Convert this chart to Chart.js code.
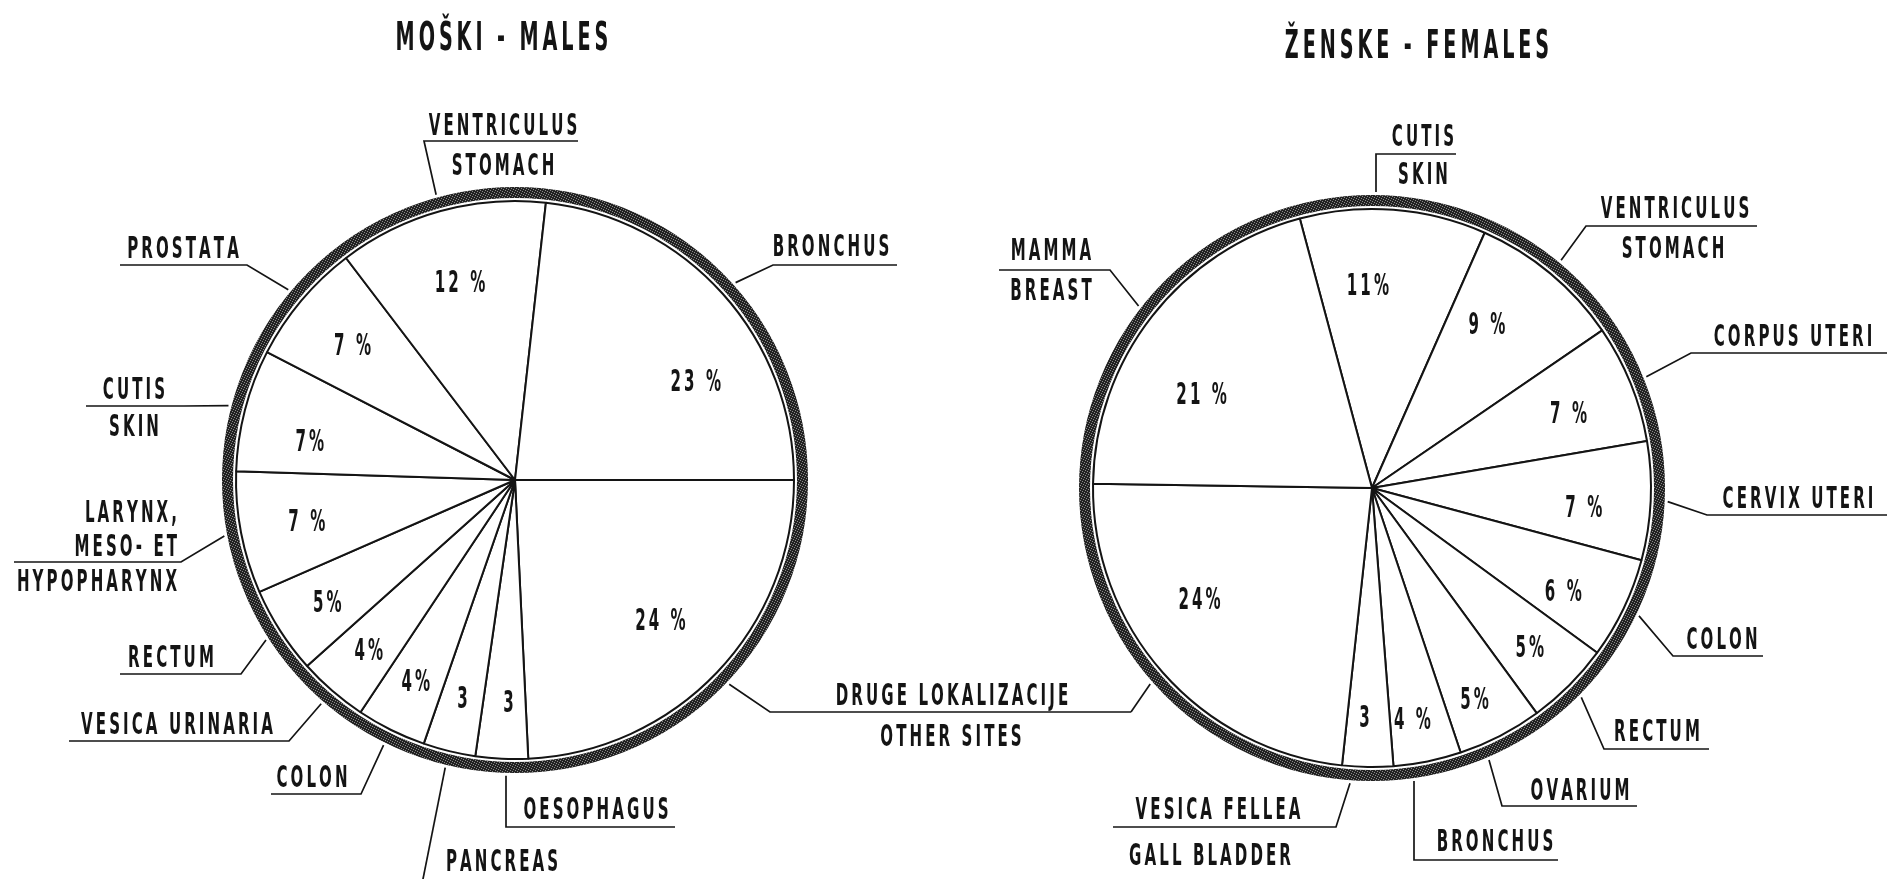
<!DOCTYPE html>
<html>
<head>
<meta charset="utf-8">
<script src="https://cdn.jsdelivr.net/npm/chart.js@4.4.0/dist/chart.umd.min.js"></script>
<style>
  html, body { margin: 0; padding: 0; background: #ffffff; }
  #wrap { position: relative; width: 1887px; height: 879px; overflow: hidden; background: #ffffff; }
  #wrap canvas { position: absolute; left: 0; top: 0; }
</style>
</head>
<body>
<div id="wrap">
  <canvas id="males" width="1887" height="879"></canvas>
  <canvas id="females" width="1887" height="879"></canvas>
</div>
<script>
// ---------------- DATA ----------------
const chartTitles = ['MOŠKI - MALES', 'ŽENSKE - FEMALES'];

const maleCategories = [
  'DRUGE LOKALIZACIJE\nOTHER SITES', 'OESOPHAGUS', 'PANCREAS', 'COLON', 'VESICA URINARIA',
  'RECTUM', 'LARYNX,\nMESO- ET\nHYPOPHARYNX', 'CUTIS\nSKIN', 'PROSTATA', 'VENTRICULUS\nSTOMACH', 'BRONCHUS'
];
const maleValues = [24, 3, 3, 4, 4, 5, 7, 7, 7, 12, 23];
const malePctLabels = ['24 %', '3', '3', '4%', '4%', '5%', '7 %', '7%', '7 %', '12 %', '23 %'];

const femaleCategories = [
  'CUTIS\nSKIN', 'VENTRICULUS\nSTOMACH', 'CORPUS UTERI', 'CERVIX UTERI', 'COLON', 'RECTUM',
  'OVARIUM', 'BRONCHUS', 'VESICA FELLEA\nGALL BLADDER', 'DRUGE LOKALIZACIJE\nOTHER SITES', 'MAMMA\nBREAST'
];
const femaleValues = [11, 9, 7, 7, 6, 5, 5, 4, 3, 24, 21];
const femalePctLabels = ['11%', '9 %', '7 %', '7 %', '6 %', '5%', '5%', '4 %', '3', '24%', '21 %'];

// ---------------- LAYOUT / STYLE (page pixels) ----------------
const INK = '#141414';
const RING_IN = 3, RING_W = 11, LEAD = 17;

const maleLayout = [
  { text: [[952, 694], [951, 735]], path: [[770, 712], [1131, 712]] },
  { text: [[596, 808]], anchorX: 506, path: [[506, 827], [675, 827]], dp: [4, -2] },
  { text: [[502, 860]], path: [[422, 884]] },
  { text: [[312, 776]], path: [[361, 794], [271, 794]] },
  { text: [[177, 723]], path: [[289, 741], [69, 741]] },
  { text: [[171, 656]], path: [[241, 674], [120, 674]] },
  { text: [[177, 511], [177, 545], [177, 580]], align: 'right', path: [[181, 562], [14, 562]] },
  { text: [[134, 388], [134, 425]], path: [[184, 406], [86, 406]], dp: [0, 13] },
  { text: [[183, 247]], path: [[247, 265], [120, 265]] },
  { text: [[503, 124], [503, 164]], path: [[424, 141], [578, 141]] },
  { text: [[831, 245]], path: [[773, 265], [897, 265]], dp: [31, 34] }
];
const femaleLayout = [
  { text: [[1423, 135], [1423, 173]], anchorX: 1376, path: [[1376, 154], [1456, 154]], dp: [-20, 2] },
  { text: [[1675, 207], [1673, 247]], path: [[1586, 226], [1757, 226]], dp: [-17, -6] },
  { text: [[1793, 335]], path: [[1691, 353], [1887, 353]], dp: [0, 4] },
  { text: [[1798, 497]], path: [[1707, 515], [1887, 515]], dp: [0, 8] },
  { text: [[1722, 638]], path: [[1673, 656], [1763, 656]], dp: [0, 10] },
  { text: [[1657, 730]], path: [[1604, 749], [1709, 749]] },
  { text: [[1580, 789]], anchorX: 1489, path: [[1502, 806], [1637, 806]], dp: [0, 12] },
  { text: [[1495, 840]], anchorX: 1414, path: [[1414, 860], [1558, 860]], dp: [-4, 11] },
  { text: [[1218, 808], [1210, 854]], anchorX: 1350, path: [[1336, 827], [1113, 827]], dp: [-4, 5] },
  { text: null, path: [[1131, 712]], dp: [-22, -23] },
  { text: [[1051, 249], [1051, 289]], path: [[1110, 270], [999, 270]], dp: [-12, 29] }
];

// ---------------- HELPERS ----------------
function drawText(ctx, text, x, y, capH, align) {
  const size = capH / 0.73;
  ctx.font = 'bold ' + size.toFixed(1) + 'px "DejaVu Sans", "Liberation Sans", sans-serif';
  ctx.fillStyle = INK;
  ctx.textBaseline = 'alphabetic';
  ctx.textAlign = 'left';
  const sx = 0.5, gap = capH * 0.14;
  const chars = Array.from(text);
  const widths = chars.map(c => ctx.measureText(c).width * sx);
  const total = widths.reduce((a, b) => a + b, 0) + gap * (chars.length - 1);
  let pos = align === 'right' ? x - total : (align === 'left' ? x : x - total / 2);
  const base = y + capH / 2;
  chars.forEach((c, i) => {
    ctx.save();
    ctx.translate(pos, base);
    ctx.scale(sx, 1);
    ctx.fillText(c, 0, 0);
    ctx.restore();
    pos += widths[i] + gap;
  });
}

function ringPattern(ctx) {
  const p = document.createElement('canvas');
  p.width = 5; p.height = 5;
  const pc = p.getContext('2d');
  pc.fillStyle = '#222222';
  pc.fillRect(0, 0, 5, 5);
  pc.fillStyle = '#8a8a8a';
  [[0, 0], [2, 1], [4, 2], [1, 3], [3, 4]].forEach(q => pc.fillRect(q[0], q[1], 1, 1));
  return ctx.createPattern(p, 'repeat');
}

function makeCallouts(key, title, titlePos, categories, values, pct, layout) {
  return {
    id: 'callouts_' + key,
    afterDatasetsDraw(chart) {
      const ctx = chart.ctx;
      const arcs = chart.getDatasetMeta(0).data;
      const cx = arcs[0].x, cy = arcs[0].y, R = arcs[0].outerRadius;
      ctx.save();
      // outer ring
      ctx.beginPath();
      ctx.arc(cx, cy, R + RING_IN + RING_W / 2, 0, Math.PI * 2);
      ctx.lineWidth = RING_W;
      ctx.strokeStyle = ringPattern(ctx);
      ctx.stroke();
      // title
      drawText(ctx, title, titlePos[0], titlePos[1], 28, 'center');
      arcs.forEach((arc, i) => {
        const L = layout[i];
        const mid = (arc.startAngle + arc.endAngle) / 2;
        const v = values[i];
        const f = v >= 20 ? 0.72 : v >= 9 ? 0.74 : v >= 6 ? 0.76 : 0.8;
        const dp = L.dp || [0, 0];
        drawText(ctx, pct[i], cx + Math.cos(mid) * R * f + dp[0], cy + Math.sin(mid) * R * f + dp[1], 22, 'center');
        const rr = R + LEAD;
        let ax, ay;
        if (L.anchorX !== undefined) {
          ax = L.anchorX;
          const dy = Math.sqrt(Math.max(rr * rr - (ax - cx) * (ax - cx), 0));
          ay = cy + (Math.sin(mid) >= 0 ? dy : -dy);
        } else {
          ax = cx + Math.cos(mid) * rr;
          ay = cy + Math.sin(mid) * rr;
        }
        ctx.beginPath();
        ctx.moveTo(ax, ay);
        L.path.forEach(p => ctx.lineTo(p[0], p[1]));
        ctx.lineWidth = 1.7;
        ctx.strokeStyle = INK;
        ctx.lineJoin = 'miter';
        ctx.stroke();
        if (L.text) {
          const lines = categories[i].split('\n');
          lines.forEach((t, j) => drawText(ctx, t, L.text[j][0], L.text[j][1], 22, L.align || 'center'));
        }
      });
      ctx.restore();
    }
  };
}

function pieConfig(categories, values, rotation, padding, plugin) {
  return {
    type: 'pie',
    data: {
      labels: categories,
      datasets: [{
        data: values,
        backgroundColor: '#ffffff',
        borderColor: INK,
        borderWidth: 2,
        hoverOffset: 0
      }]
    },
    options: {
      responsive: false,
      animation: false,
      rotation: rotation,
      layout: { padding: padding },
      plugins: { legend: { display: false }, tooltip: { enabled: false }, title: { display: false } }
    },
    plugins: [plugin]
  };
}

new Chart(document.getElementById('males'), pieConfig(
  maleCategories, maleValues, 90,
  { left: 235, top: 200, right: 1092, bottom: 119 },
  makeCallouts('m', chartTitles[0], [502, 36], maleCategories, maleValues, malePctLabels, maleLayout)
));

new Chart(document.getElementById('females'), pieConfig(
  femaleCategories, femaleValues, -15,
  { left: 1092, top: 208, right: 235, bottom: 111 },
  makeCallouts('f', chartTitles[1], [1417, 44], femaleCategories, femaleValues, femalePctLabels, femaleLayout)
));
</script>
</body>
</html>
